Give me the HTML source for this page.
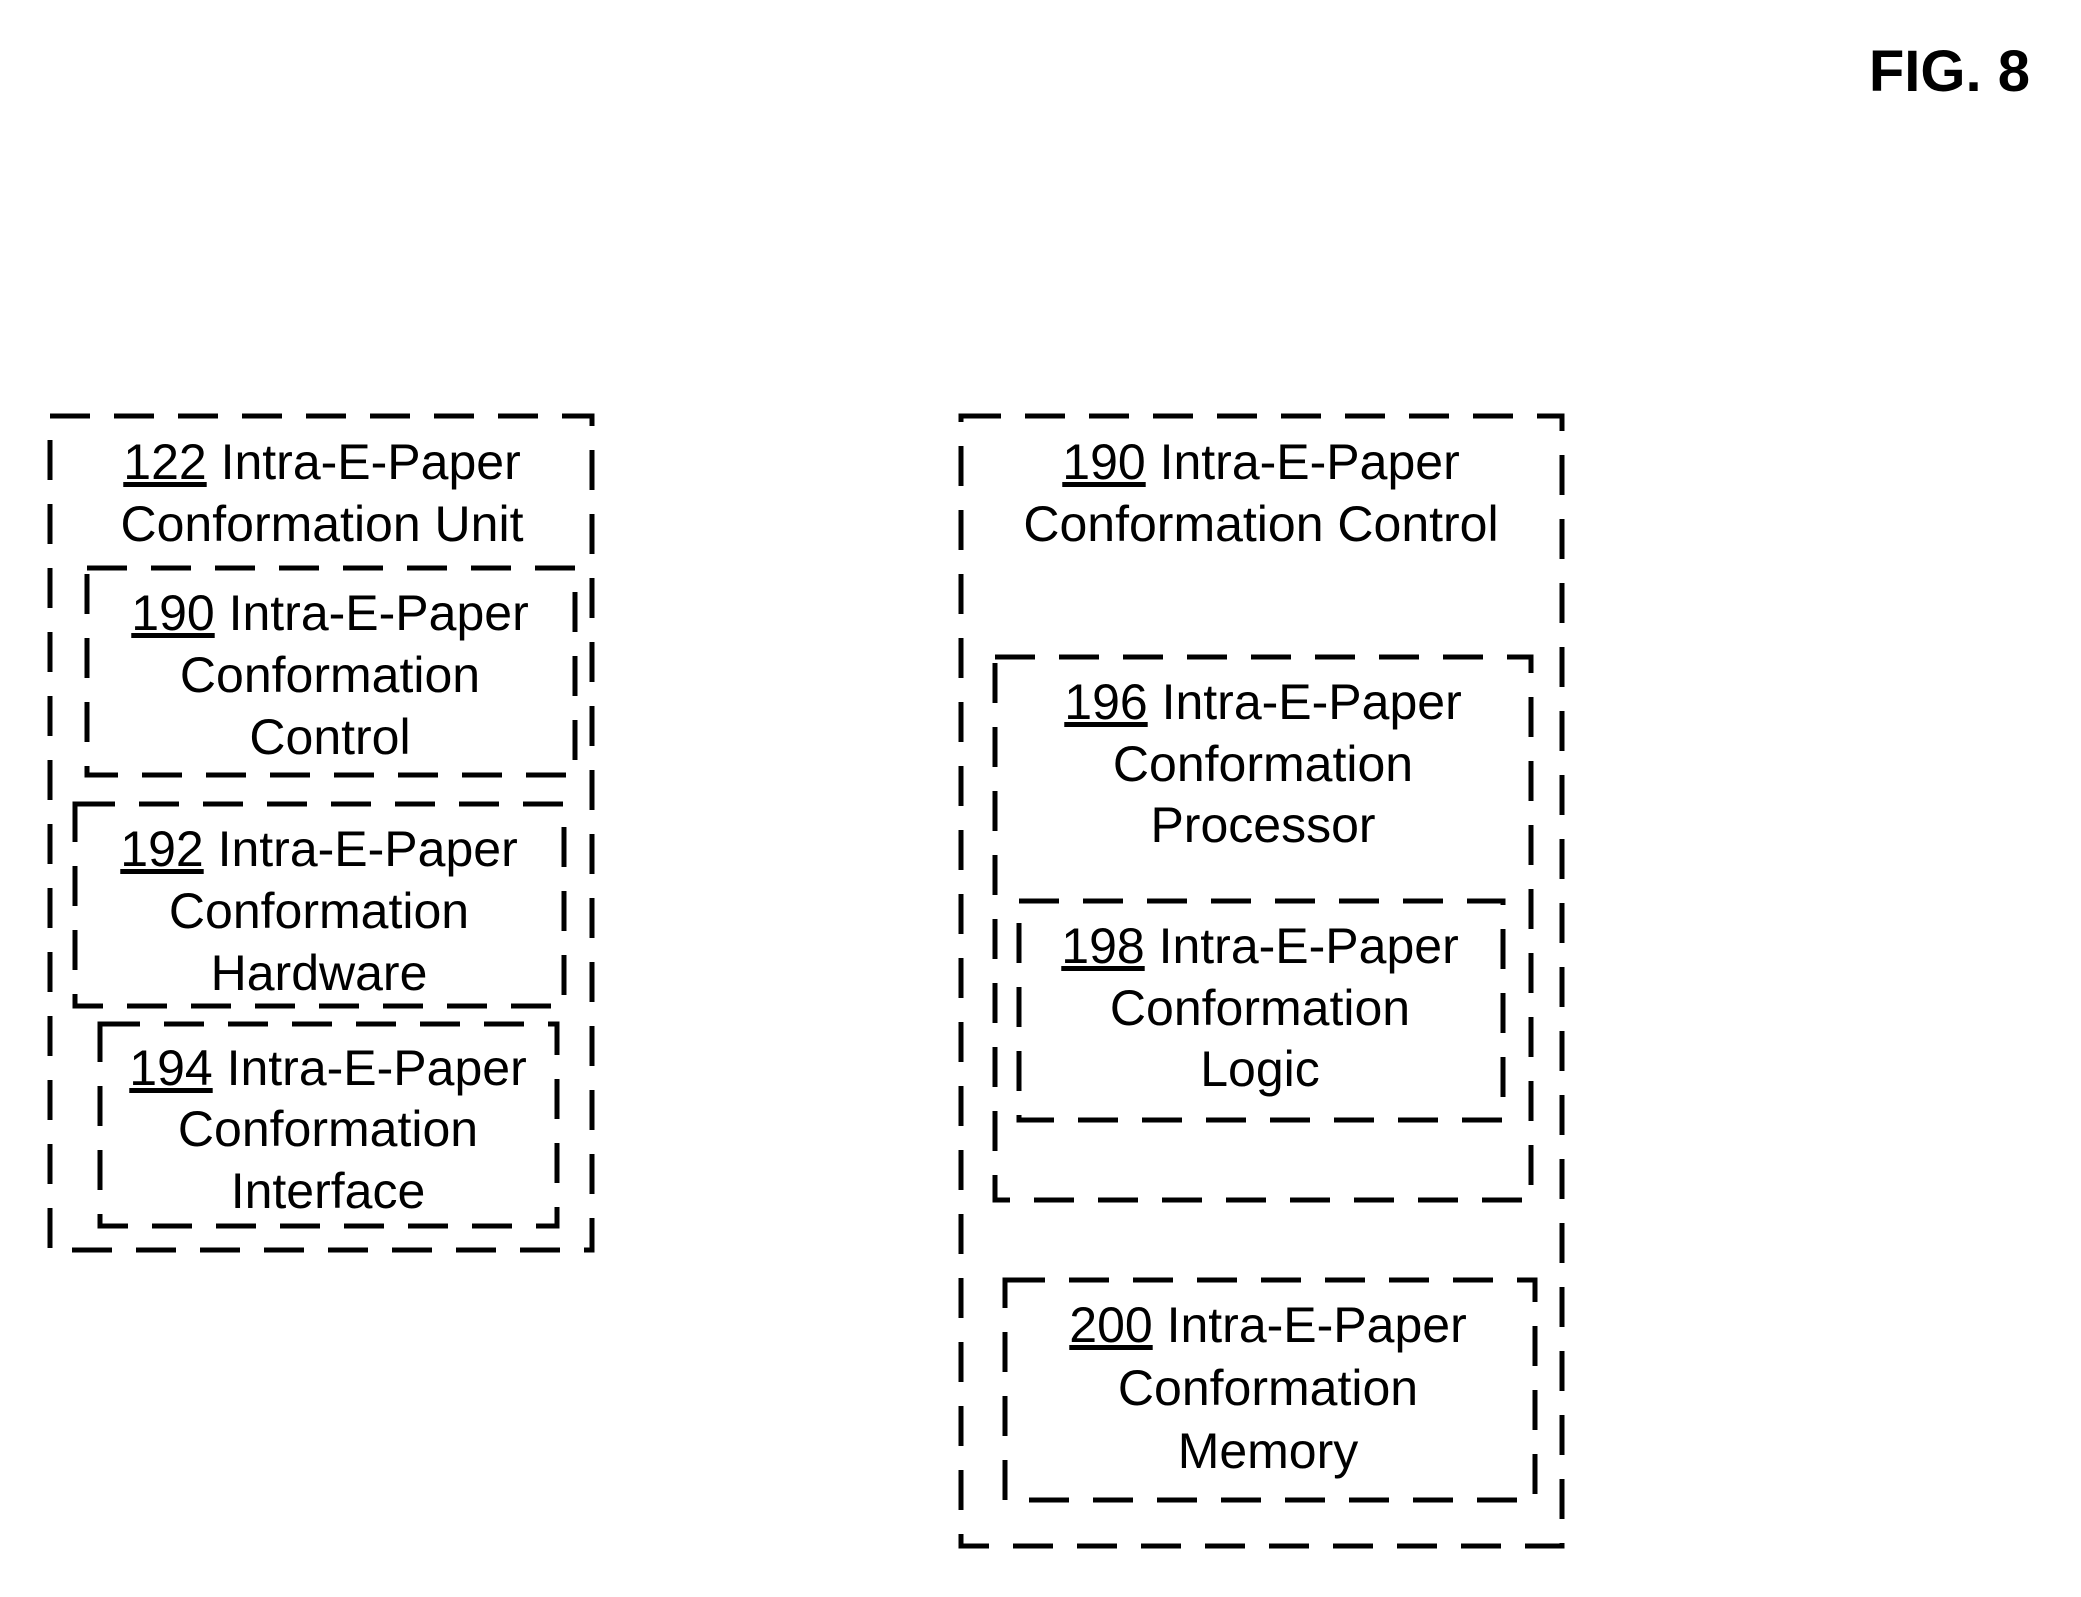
<!DOCTYPE html>
<html><head><meta charset="utf-8"><style>html,body{margin:0;padding:0;background:#fff}</style></head>
<body>
<svg width="2081" height="1592" viewBox="0 0 2081 1592" xmlns="http://www.w3.org/2000/svg">
<g fill="none" stroke="#000" stroke-width="5" stroke-dasharray="40 24">
<rect x="50" y="416" width="542" height="834"/>
<rect x="87" y="568" width="488" height="207"/>
<rect x="75" y="804" width="489" height="202"/>
<rect x="100" y="1024" width="457" height="202"/>
<rect x="961" y="416" width="601" height="1130"/>
<rect x="995" y="657" width="536" height="543"/>
<rect x="1019" y="901" width="484" height="219"/>
<rect x="1005" y="1280" width="530" height="220"/>
</g>
<g font-family="Liberation Sans, Arial, sans-serif" font-size="50" text-anchor="middle" fill="#000">
<text x="322" y="479"><tspan text-decoration="underline">122</tspan> Intra-E-Paper</text>
<text x="322" y="541">Conformation Unit</text>
<text x="330" y="630"><tspan text-decoration="underline">190</tspan> Intra-E-Paper</text>
<text x="330" y="692">Conformation</text>
<text x="330" y="754">Control</text>
<text x="319" y="866"><tspan text-decoration="underline">192</tspan> Intra-E-Paper</text>
<text x="319" y="928">Conformation</text>
<text x="319" y="990">Hardware</text>
<text x="328" y="1085"><tspan text-decoration="underline">194</tspan>  Intra-E-Paper</text>
<text x="328" y="1146">Conformation</text>
<text x="328" y="1208">Interface</text>
<text x="1261" y="479"><tspan text-decoration="underline">190</tspan> Intra-E-Paper</text>
<text x="1261" y="541">Conformation Control</text>
<text x="1263" y="719"><tspan text-decoration="underline">196</tspan> Intra-E-Paper</text>
<text x="1263" y="781">Conformation</text>
<text x="1263" y="842">Processor</text>
<text x="1260" y="963"><tspan text-decoration="underline">198</tspan> Intra-E-Paper</text>
<text x="1260" y="1025">Conformation</text>
<text x="1260" y="1086">Logic</text>
<text x="1268" y="1342"><tspan text-decoration="underline">200</tspan> Intra-E-Paper</text>
<text x="1268" y="1405">Conformation</text>
<text x="1268" y="1468">Memory</text>
</g>
<text x="2030" y="91" text-anchor="end" font-family="Liberation Sans, Arial, sans-serif" font-size="58" font-weight="bold">FIG. 8</text>
</svg>
</body></html>
